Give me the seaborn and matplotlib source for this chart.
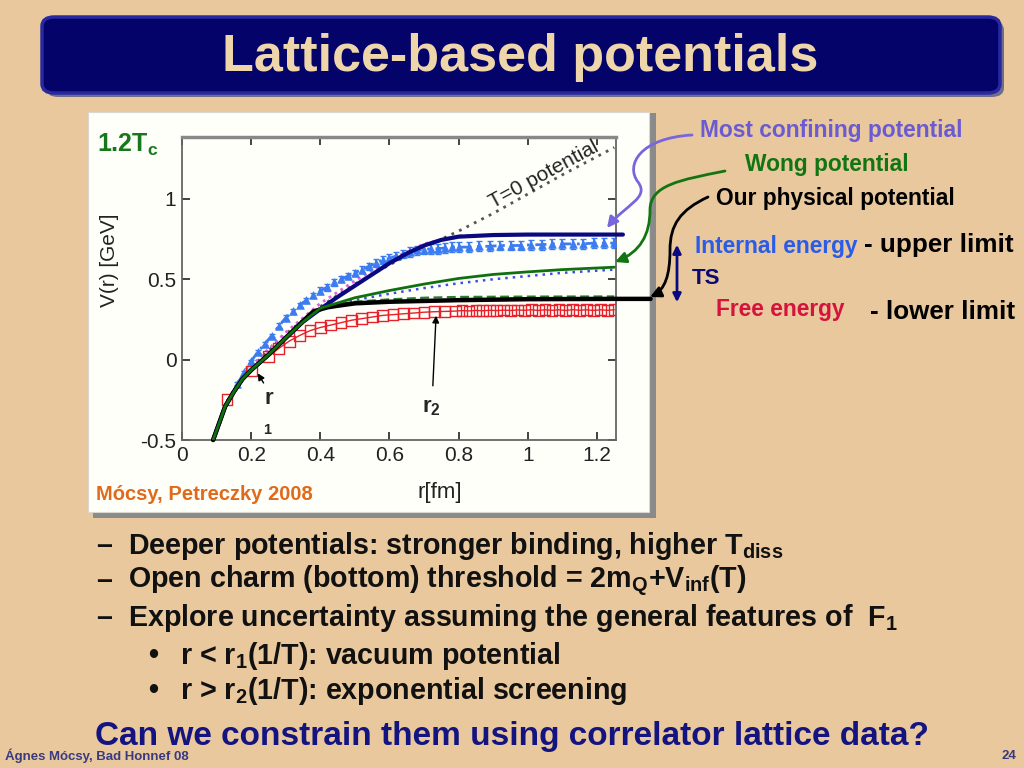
import numpy as np
import pandas as pd
import matplotlib
matplotlib.use('Agg')
import matplotlib.pyplot as plt
import seaborn as sns
from matplotlib.patches import FancyBboxPatch, Rectangle, FancyArrowPatch
from matplotlib.path import Path

# %% Data (r in fm, V in GeV)
r_t0 = [0.09, 0.1, 0.125, 0.15, 0.2, 0.3, 0.4, 0.5, 0.6, 0.7, 0.8, 0.9, 1.0, 1.1, 1.25]
v_t0 = [-0.5, -0.43, -0.28, -0.19, -0.05, 0.16, 0.33, 0.47, 0.59, 0.70, 0.80, 0.91, 1.03, 1.15, 1.32]

r_mag = [0.09, 0.1, 0.125, 0.15, 0.2, 0.3, 0.4, 0.5, 0.6, 0.7, 0.8, 0.9]
v_mag = [-0.5, -0.43, -0.28, -0.19, -0.04, 0.17, 0.35, 0.49, 0.62, 0.72, 0.77, 0.775]

r_navy = [0.09, 0.1, 0.125, 0.15, 0.175, 0.2, 0.25, 0.3, 0.35, 0.4, 0.45, 0.5, 0.55, 0.6, 0.65, 0.7,
          0.75, 0.8, 0.9, 1.0, 1.275]
v_navy = [-0.5, -0.44, -0.29, -0.2, -0.12, -0.065, 0.03, 0.135, 0.235, 0.315, 0.39, 0.46, 0.53, 0.6,
          0.66, 0.71, 0.745, 0.765, 0.775, 0.778, 0.778]

r_black = [0.09, 0.1, 0.125, 0.15, 0.175, 0.2, 0.25, 0.3, 0.35, 0.38, 0.42, 0.45, 0.5, 0.6, 0.8,
           1.0, 1.25, 1.355]
v_black = [-0.5, -0.44, -0.29, -0.2, -0.12, -0.065, 0.03, 0.135, 0.24, 0.30, 0.325, 0.335, 0.35,
           0.36, 0.37, 0.376, 0.378, 0.378]

r_wong = [0.09, 0.1, 0.125, 0.15, 0.175, 0.2, 0.25, 0.3, 0.35, 0.4, 0.5, 0.6, 0.7, 0.8, 0.9, 1.0,
          1.1, 1.25]
v_wong = [-0.5, -0.44, -0.29, -0.2, -0.12, -0.065, 0.03, 0.135, 0.235, 0.32, 0.385, 0.43, 0.47,
          0.505, 0.53, 0.546, 0.56, 0.575]

r_bdot = [0.4, 0.5, 0.6, 0.7, 0.8, 0.9, 1.0, 1.1, 1.25]
v_bdot = [0.32, 0.37, 0.41, 0.445, 0.475, 0.5, 0.52, 0.54, 0.56]

r_gdash = [0.42, 0.5, 0.6, 0.7, 0.8, 1.0, 1.25]
v_gdash = [0.335, 0.36, 0.375, 0.385, 0.39, 0.392, 0.393]

# internal energy lattice data
r_int = [0.16, 0.18, 0.20, 0.22, 0.24, 0.26, 0.28, 0.30, 0.32, 0.34, 0.36, 0.38, 0.40, 0.42,
         0.44, 0.46, 0.48, 0.50, 0.52, 0.54, 0.56, 0.58, 0.60, 0.62, 0.64, 0.66, 0.68, 0.70,
         0.72, 0.74, 0.76, 0.78, 0.80, 0.83, 0.86, 0.89, 0.92, 0.95, 0.98, 1.01, 1.04, 1.07,
         1.10, 1.13, 1.16, 1.19, 1.22, 1.25]
v_int = [-0.15, -0.08, -0.01, 0.05, 0.10, 0.15, 0.21, 0.26, 0.30, 0.34, 0.37, 0.40, 0.43, 0.45,
         0.48, 0.50, 0.52, 0.54, 0.56, 0.58, 0.60, 0.62, 0.63, 0.645, 0.66, 0.67, 0.68, 0.685,
         0.69, 0.69, 0.695, 0.70, 0.70, 0.70, 0.705, 0.705, 0.71, 0.71, 0.71, 0.715, 0.715, 0.72,
         0.72, 0.72, 0.72, 0.725, 0.725, 0.725]
e_int = [0.01, 0.01, 0.01, 0.01, 0.01, 0.01, 0.015, 0.015, 0.015, 0.015, 0.015, 0.015, 0.02, 0.02,
         0.02, 0.02, 0.02, 0.02, 0.02, 0.02, 0.025, 0.025, 0.025, 0.025, 0.025, 0.03, 0.03, 0.03,
         0.03, 0.03, 0.03, 0.03, 0.03, 0.03, 0.03, 0.03, 0.03, 0.03, 0.03, 0.03, 0.03, 0.03,
         0.03, 0.03, 0.03, 0.03, 0.03, 0.03]

# free energy lattice data
r_free = [0.13, 0.20, 0.25, 0.28, 0.31, 0.34, 0.37, 0.40, 0.43, 0.46, 0.49, 0.52, 0.55, 0.58,
          0.61, 0.64, 0.67, 0.70, 0.73, 0.76, 0.79, 0.81, 0.83, 0.85, 0.87, 0.89, 0.91, 0.93,
          0.95, 0.97, 0.99, 1.01, 1.03, 1.05, 1.07, 1.09, 1.11, 1.13, 1.15, 1.17, 1.19, 1.21,
          1.23, 1.25]
v_free = [-0.25, -0.07, 0.02, 0.07, 0.115, 0.15, 0.18, 0.20, 0.215, 0.23, 0.245, 0.255, 0.265, 0.275,
          0.28, 0.285, 0.29, 0.295, 0.298, 0.30, 0.302, 0.305, 0.303, 0.306, 0.304, 0.307, 0.305, 0.308,
          0.306, 0.309, 0.307, 0.31, 0.306, 0.31, 0.307, 0.31, 0.306, 0.311, 0.307, 0.31, 0.306, 0.31,
          0.307, 0.31]

xticks = [0, 0.2, 0.4, 0.6, 0.8, 1, 1.2]
xticklabels = ['0', '0.2', '0.4', '0.6', '0.8', '1', '1.2']
yticks = [-0.5, 0, 0.5, 1]
yticklabels = ['-0.5', '0', '0.5', '1']

bullets = [('\u2013', 'Deeper potentials: stronger binding, higher T$_{\\mathbf{diss}}$'),
           ('\u2013', 'Open charm (bottom) threshold = 2m$_{\\mathbf{Q}}$+V$_{\\mathbf{inf}}$(T)'),
           ('\u2013', 'Explore uncertainty assuming the general features of  F$_{\\mathbf{1}}$'),
           ('\u2022', 'r < r$_{\\mathbf{1}}$(1/T): vacuum potential'),
           ('\u2022', 'r > r$_{\\mathbf{2}}$(1/T): exponential screening')]

# %% Style
sns.set_theme(style='ticks')
plt.rcParams['font.family'] = ['Liberation Sans', 'DejaVu Sans']
plt.rcParams['mathtext.fontset'] = 'custom'
plt.rcParams['mathtext.rm'] = 'Liberation Sans'
plt.rcParams['mathtext.bf'] = 'Liberation Sans:bold'
plt.rcParams['mathtext.it'] = 'Liberation Sans:italic'

BG = '#E8C89C'
W, H = 1024, 768

def fx(x):
    return x / W

def fy(y):
    return 1 - y / H

fig = plt.figure(figsize=(10.24, 7.68), dpi=100)
fig.patch.set_facecolor(BG)

# title bar
fig.patches.append(FancyBboxPatch((fx(46), fy(97)), fx(958), 76 / H, boxstyle='round,pad=0,rounding_size=0.012',
                                  transform=fig.transFigure, fc='#6E6E8C', ec='none', zorder=0))
fig.patches.append(FancyBboxPatch((fx(42), fy(93)), fx(958), 76 / H, boxstyle='round,pad=0,rounding_size=0.012',
                                  transform=fig.transFigure, fc='#03036A', ec='#2828A0', lw=2.5, zorder=0.1))
fig.text(fx(520), fy(57), 'Lattice-based potentials', color='#EFD6AA', fontsize=37.5, fontweight='bold',
         ha='center', va='center')

# white panel with shadow
fig.patches.append(Rectangle((fx(93), fy(518)), fx(563), 405 / H, transform=fig.transFigure,
                             fc='#8A8A8A', ec='none', zorder=0))
fig.patches.append(Rectangle((fx(88), fy(512)), fx(561), 400 / H, transform=fig.transFigure,
                             fc='#FFFFFA', ec='#D8D8D0', lw=0.8, zorder=0.1))

# %% Axes
ax = fig.add_axes([fx(182), fy(440), (616 - 182) / W, (440 - 137) / H])
ax.set_zorder(1)
ax.set_facecolor('none')

sns.lineplot(x=r_t0, y=v_t0, ax=ax, color='#555555', lw=2, linestyle=(0, (1, 2)), estimator=None, sort=False)
sns.lineplot(x=r_mag, y=v_mag, ax=ax, color='#E060E0', lw=2, linestyle=(0, (1, 1.5)), estimator=None, sort=False)

ax.errorbar(r_int, v_int, yerr=e_int, fmt='none', ecolor='#3C7CF0', elinewidth=1.5, capsize=2)
sns.lineplot(x=r_int, y=v_int, ax=ax, color='#3C7CF0', lw=2, linestyle=(0, (4, 2, 1, 2)), estimator=None, sort=False)
sns.scatterplot(x=r_int, y=v_int, ax=ax, color='#3C7CF0', marker='^', s=30, edgecolor='#3C7CF0', linewidth=0.5, zorder=3)

sns.lineplot(x=r_free, y=v_free, ax=ax, color='#E8202A', lw=1, estimator=None, sort=False)
sns.scatterplot(x=r_free, y=v_free, ax=ax, marker='s', s=60, facecolor='none', edgecolor='#E8202A', linewidth=1, zorder=3)

sns.lineplot(x=r_bdot, y=v_bdot, ax=ax, color='#3A50E0', lw=1.8, linestyle=(0, (1, 2)), estimator=None, sort=False)
sns.lineplot(x=r_gdash, y=v_gdash, ax=ax, color='#2E7D32', lw=1.6, linestyle=(0, (4, 2)), estimator=None, sort=False)
sns.lineplot(x=r_navy, y=v_navy, ax=ax, color='#0A0A80', lw=3, estimator=None, sort=False, clip_on=False, zorder=4)
ax.plot(r_black, v_black, color='black', lw=3.2, zorder=5, clip_on=False)
sns.lineplot(x=r_wong, y=v_wong, ax=ax, color='#107010', lw=2, estimator=None, sort=False, zorder=6)

ax.set_xlim(0, 1.255)
ax.set_ylim(-0.5, 1.385)
ax.set_xticks(xticks)
ax.set_xticklabels(xticklabels)
ax.set_yticks(yticks)
ax.set_yticklabels(yticklabels)
ax.tick_params(direction='in', top=True, right=True, length=6, width=1.2, labelsize=15,
               colors='#222222', pad=4)
for s in ax.spines.values():
    s.set_color('#666666')
    s.set_linewidth(1.3)
ax.spines['top'].set_color('#888888')
ax.spines['top'].set_linewidth(2.5)
ax.set_xlabel('r[fm]', fontsize=16, color='#222222')
ax.set_ylabel('V(r) [GeV]', fontsize=15, color='#222222')
ax.xaxis.set_label_coords((440 - 182) / 434, -0.14)
ax.yaxis.set_label_coords((119 - 182) / 434, (440 - 260) / 303)

ax.text(1.046, 1.15, 'T=0 potential', fontsize=15, color='#222222', rotation=28.5,
        ha='center', va='center')
# r1 / r2 markers
ax.annotate('', xy=(0.215, -0.07), xytext=(0.24, -0.16),
            arrowprops=dict(arrowstyle='-|>', color='black', lw=1, mutation_scale=10))
ax.text(0.25, -0.24, 'r', fontsize=16, fontweight='bold', ha='center', va='center')
ax.text(0.245, -0.44, '1', fontsize=10.5, fontweight='bold', ha='center', va='center')
ax.annotate('', xy=(0.735, 0.29), xytext=(0.725, -0.18),
            arrowprops=dict(arrowstyle='-|>', color='black', lw=1, mutation_scale=10))
ax.text(0.72, -0.30, 'r$_{\\mathbf{2}}$', fontsize=16, fontweight='bold', ha='center', va='center')

# %% Panel labels
fig.text(fx(97), fy(145), '1.2T$_{\\mathbf{c}}$', color='#16781A', fontsize=18, fontweight='bold', va='center')
fig.text(fx(96), fy(495), 'Mócsy, Petreczky 2008', color='#E06A1C', fontsize=14.5, fontweight='bold', va='center')

# %% Right-hand annotations
fig.text(fx(700), fy(131), 'Most confining potential', color='#6A5BD2', fontsize=16.4, fontweight='bold', va='center')
fig.text(fx(745), fy(165), 'Wong potential', color='#127512', fontsize=16.4, fontweight='bold', va='center')
fig.text(fx(716), fy(199), 'Our physical potential', color='black', fontsize=16.4, fontweight='bold', va='center')
fig.text(fx(695), fy(246), 'Internal energy', color='#2A5CE8', fontsize=16.4, fontweight='bold', va='center')
fig.text(fx(864), fy(245), '- upper limit', color='black', fontsize=18.7, fontweight='bold', va='center')
fig.text(fx(692), fy(279), 'TS', color='#0A0A70', fontsize=16, fontweight='bold', va='center')
fig.text(fx(716), fy(310), 'Free energy', color='#D4143C', fontsize=16.4, fontweight='bold', va='center')
fig.text(fx(870), fy(312), '- lower limit', color='black', fontsize=18.7, fontweight='bold', va='center')

def curved_arrow(pts, color):
    verts = [(fx(x), fy(y)) for x, y in pts]
    codes = [Path.MOVETO] + [Path.CURVE4] * (len(verts) - 1)
    arr = FancyArrowPatch(path=Path(verts, codes), arrowstyle='-|>', mutation_scale=16,
                          color=color, lw=2, transform=fig.transFigure, zorder=3)
    fig.patches.append(arr)

curved_arrow([(692, 135), (640, 138), (625, 165), (638, 182), (650, 198), (625, 205), (607, 228)], '#7766DD')
curved_arrow([(725, 171), (680, 180), (650, 185), (650, 210), (650, 235), (640, 252), (615, 262)], '#127512')
curved_arrow([(708, 197), (680, 210), (670, 225), (670, 250), (670, 275), (665, 290), (650, 297)], 'black')
fig.patches.append(FancyArrowPatch((fx(677), fy(305)), (fx(677), fy(242)), arrowstyle='<|-|>', mutation_scale=12,
                                   color='#0A0A80', lw=2, transform=fig.transFigure, zorder=3))

# %% Bullets
narrow = ['Liberation Sans Narrow', 'Liberation Sans', 'DejaVu Sans']
y0 = [546, 581, 618, 656, 691]
for i, (mark, txt) in enumerate(bullets):
    xm = 96 if mark == '\u2013' else 148
    fig.text(fx(xm), fy(y0[i]), mark, fontsize=20.6, fontweight='bold', color='#111111', va='center', family=narrow)
    fig.text(fx(xm + 32), fy(y0[i]), txt, fontsize=20.6, fontweight='bold', color='#111111', va='center', family=narrow)

fig.text(fx(512), fy(736), 'Can we constrain them using correlator lattice data?', fontsize=24, fontweight='bold',
         color='#141480', ha='center', va='center', family=narrow, zorder=4)
fig.text(fx(5), fy(756), 'Ágnes Mócsy, Bad Honnef 08', fontsize=9.5, fontweight='bold', color='#3A3A80',
         va='center', family=narrow, zorder=2)
fig.text(fx(1016), fy(756), '24', fontsize=9.5, fontweight='bold', color='#3A3A80', ha='right', va='center', family=narrow)

fig.savefig('out.png', dpi=100, facecolor=BG)
